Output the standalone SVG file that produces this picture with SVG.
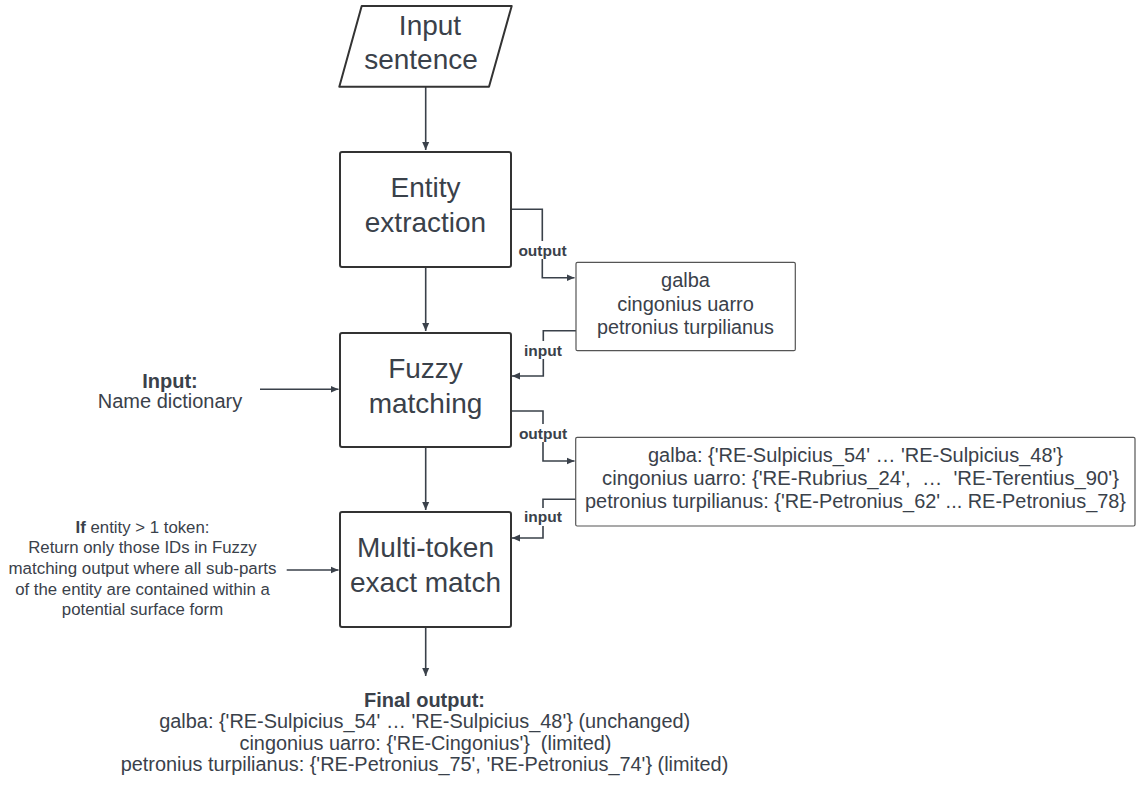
<svg xmlns="http://www.w3.org/2000/svg" width="1137" height="789" viewBox="0 0 1137 789">
<style>
text{font-family:"Liberation Sans",Arial,sans-serif;fill:#3a414a;text-anchor:middle}
.big{font-size:28px}
.mid{font-size:20px}
.sm{font-size:16.8px}
.lbl{font-size:15.5px;font-weight:bold}
.b{font-weight:bold}
.pre{white-space:pre}
.node{fill:#fff;stroke:#333;stroke-width:2}
.box{fill:#fff;stroke:#555;stroke-width:1.2}
.conn{fill:none;stroke:#3a414a;stroke-width:1.6;marker-end:url(#ah)}
</style>
<defs>
<marker id="ah" markerUnits="userSpaceOnUse" markerWidth="10" markerHeight="10" refX="8" refY="4" orient="auto">
<path d="M0,0.5 L8,4 L0,7.5 Z" fill="#3a414a"/>
</marker>
</defs>
<rect width="1137" height="789" fill="#fff"/>
<g id="connectors">
<path class="conn" d="M425.7,87 V150"/>
<path class="conn" d="M425.7,267 V331"/>
<path class="conn" d="M425.7,447 V510"/>
<path class="conn" d="M425.7,627 V676"/>
<path class="conn" d="M511,209.3 H542.3 V277.7 H574.5"/>
<path class="conn" d="M576,330.7 H543.3 V376 H512"/>
<path class="conn" d="M511,411 H543 V461 H574.5"/>
<path class="conn" d="M576,499.3 H543 V538 H512"/>
<path class="conn" d="M260,389.3 H338.5"/>
<path class="conn" d="M286.7,570 H338.5"/>
<rect x="515" y="241" width="56" height="18" fill="#fff"/>
<text class="lbl" x="542.5" y="255.5">output</text>
<rect x="521" y="341" width="44" height="18" fill="#fff"/>
<text class="lbl" x="543" y="355.5">input</text>
<rect x="515" y="424" width="56" height="18" fill="#fff"/>
<text class="lbl" x="543" y="439">output</text>
<rect x="521" y="508" width="44" height="18" fill="#fff"/>
<text class="lbl" x="543" y="522">input</text>
</g>
<g id="input-sentence">
<path class="node" d="M361.7,6 H511.7 L489,86.7 H339.3 Z" stroke-linejoin="round"/>
<text class="big" x="430" y="35">Input</text>
<text class="big" x="421" y="68.5">sentence</text>
</g>
<g id="entity-extraction">
<rect class="node" x="340" y="152" width="171" height="115" rx="2"/>
<text class="big" x="425.5" y="197">Entity</text>
<text class="big" x="425.5" y="232">extraction</text>
</g>
<g id="fuzzy-matching">
<rect class="node" x="340" y="333" width="171" height="114" rx="2"/>
<text class="big" x="425.5" y="378">Fuzzy</text>
<text class="big" x="425.5" y="413">matching</text>
</g>
<g id="multi-token">
<rect class="node" x="340" y="512" width="171" height="115" rx="2"/>
<text class="big" x="425.5" y="557">Multi-token</text>
<text class="big" x="425.5" y="592">exact match</text>
</g>
<g id="entities-box">
<rect class="box" x="576" y="262.3" width="219.3" height="88.4" rx="1.5"/>
<text class="mid" x="685.5" y="286.5">galba</text>
<text class="mid" x="685.5" y="310.5">cingonius uarro</text>
<text class="mid" x="685.5" y="334" textLength="177" lengthAdjust="spacingAndGlyphs">petronius turpilianus</text>
</g>
<g id="candidates-box">
<rect class="box" x="575.7" y="437.3" width="559.3" height="88.7" rx="1.5"/>
<text class="mid" x="855.5" y="461.5" textLength="415" lengthAdjust="spacingAndGlyphs">galba: {'RE-Sulpicius_54' … 'RE-Sulpicius_48'}</text>
<text class="mid pre" x="860.5" y="484.5" textLength="517" lengthAdjust="spacingAndGlyphs">cingonius uarro: {'RE-Rubrius_24',  …  'RE-Terentius_90'}</text>
<text class="mid" x="855.5" y="508" textLength="541" lengthAdjust="spacingAndGlyphs">petronius turpilianus: {'RE-Petronius_62' ... RE-Petronius_78}</text>
</g>
<g id="name-dictionary">
<text class="mid b" x="170" y="388">Input:</text>
<text class="mid" x="170" y="408">Name dictionary</text>
</g>
<g id="rule-text">
<text class="sm" x="142.5" y="532.5"><tspan class="b">If</tspan> entity &gt; 1 token:</text>
<text class="sm" x="142.5" y="553">Return only those IDs in Fuzzy</text>
<text class="sm" x="142.5" y="574" textLength="268" lengthAdjust="spacingAndGlyphs">matching output where all sub-parts</text>
<text class="sm" x="142.5" y="594.5">of the entity are contained within a</text>
<text class="sm" x="142.5" y="615">potential surface form</text>
</g>
<g id="final-output">
<text class="mid b" x="424.5" y="706.5" textLength="121" lengthAdjust="spacingAndGlyphs">Final output:</text>
<text class="mid" x="424.7" y="728" textLength="531" lengthAdjust="spacingAndGlyphs">galba: {'RE-Sulpicius_54' … 'RE-Sulpicius_48'} (unchanged)</text>
<text class="mid pre" x="425.5" y="749.5" textLength="372" lengthAdjust="spacingAndGlyphs">cingonius uarro: {'RE-Cingonius'}  (limited)</text>
<text class="mid" x="424.5" y="771" textLength="607.6" lengthAdjust="spacingAndGlyphs">petronius turpilianus: {'RE-Petronius_75', 'RE-Petronius_74'} (limited)</text>
</g>
</svg>
